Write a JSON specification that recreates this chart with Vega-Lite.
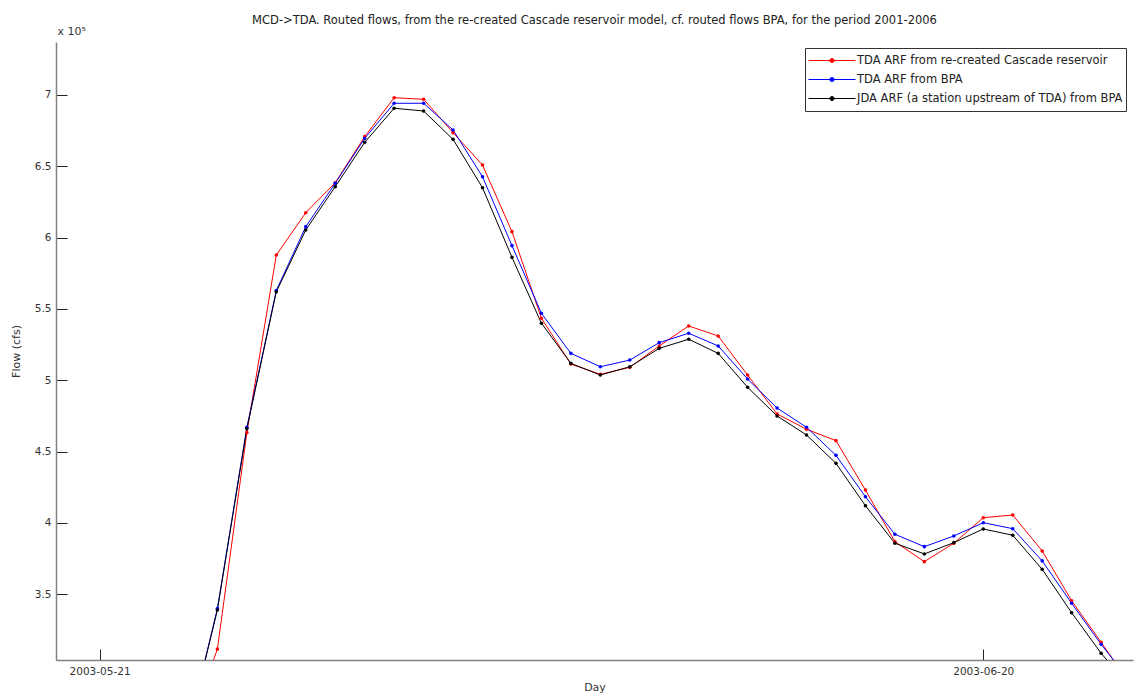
{
  "$schema": "https://vega.github.io/schema/vega-lite/v6.json",
  "autosize": "none",
  "width": 1077,
  "height": 618,
  "padding": {"left": 56, "top": 42, "right": 1, "bottom": 35},
  "background": "white",
  "title": {
    "text": "MCD->TDA. Routed flows, from the re-created Cascade reservoir model, cf. routed flows BPA, for the period 2001-2006",
    "anchor": "middle",
    "font": "DejaVu Sans",
    "fontSize": 11.5,
    "fontWeight": "normal",
    "color": "#222",
    "baseline": "alphabetic",
    "offset": 2,
    "dy": 12
  },
  "data": {
    "values": [
      {"day": "2003-05-24", "A": 253600, "B": 254000, "C": 254000},
      {"day": "2003-05-25", "A": 311600, "B": 340000, "C": 339000},
      {"day": "2003-05-26", "A": 463300, "B": 467000, "C": 466000},
      {"day": "2003-05-27", "A": 587800, "B": 563000, "C": 562000},
      {"day": "2003-05-28", "A": 617500, "B": 607700, "C": 605400},
      {"day": "2003-05-29", "A": 638500, "B": 638100, "C": 635700},
      {"day": "2003-05-30", "A": 670800, "B": 669600, "C": 666800},
      {"day": "2003-05-31", "A": 698100, "B": 694200, "C": 690700},
      {"day": "2003-06-01", "A": 697000, "B": 694200, "C": 688800},
      {"day": "2003-06-02", "A": 673600, "B": 675500, "C": 668900},
      {"day": "2003-06-03", "A": 650900, "B": 642700, "C": 635000},
      {"day": "2003-06-04", "A": 604200, "B": 594400, "C": 586200},
      {"day": "2003-06-05", "A": 543500, "B": 547000, "C": 540000},
      {"day": "2003-06-06", "A": 511400, "B": 518900, "C": 511900},
      {"day": "2003-06-07", "A": 504200, "B": 509500, "C": 503700},
      {"day": "2003-06-08", "A": 509100, "B": 514200, "C": 509500},
      {"day": "2003-06-09", "A": 524100, "B": 526400, "C": 522400},
      {"day": "2003-06-10", "A": 538100, "B": 533000, "C": 528800},
      {"day": "2003-06-11", "A": 531100, "B": 524100, "C": 518900},
      {"day": "2003-06-12", "A": 503700, "B": 500900, "C": 495100},
      {"day": "2003-06-13", "A": 476400, "B": 480600, "C": 475000},
      {"day": "2003-06-14", "A": 465700, "B": 467100, "C": 461700},
      {"day": "2003-06-15", "A": 457700, "B": 447400, "C": 441800},
      {"day": "2003-06-16", "A": 423100, "B": 418400, "C": 412100},
      {"day": "2003-06-17", "A": 386900, "B": 392100, "C": 385800},
      {"day": "2003-06-18", "A": 372900, "B": 383400, "C": 378300},
      {"day": "2003-06-19", "A": 385800, "B": 390900, "C": 386200},
      {"day": "2003-06-20", "A": 403700, "B": 400200, "C": 395800},
      {"day": "2003-06-21", "A": 405600, "B": 396000, "C": 391400},
      {"day": "2003-06-22", "A": 380400, "B": 373400, "C": 367500},
      {"day": "2003-06-23", "A": 345500, "B": 343700, "C": 337100},
      {"day": "2003-06-24", "A": 316400, "B": 315000, "C": 308700},
      {"day": "2003-06-25", "A": 286700, "B": 288700, "C": 284500}
    ]
  },
  "transform": [
    {"fold": ["A", "B", "C"], "as": ["key", "flow"]},
    {"lookup": "key", "from": {"data": {"values": [
      {"key": "A", "series": "TDA ARF from re-created Cascade reservoir"},
      {"key": "B", "series": "TDA ARF from BPA"},
      {"key": "C", "series": "JDA ARF (a station upstream of TDA) from BPA"}
    ]}, "key": "key", "fields": ["series"]}}
  ],
  "layer": [
    {
      "mark": {"type": "line", "strokeWidth": 1, "clip": true, "point": {"filled": true, "size": 13, "clip": true}},
      "encoding": {
        "x": {
          "field": "day", "type": "temporal",
          "scale": {"type": "utc", "domain": [
            {"year": 2003, "month": 5, "date": 19, "hours": 12, "minutes": 30, "utc": true},
            {"year": 2003, "month": 6, "date": 25, "hours": 2, "utc": true}
          ]},
          "axis": {
            "values": [
              {"year": 2003, "month": 5, "date": 21, "utc": true},
              {"year": 2003, "month": 6, "date": 20, "utc": true}
            ],
            "labelExpr": "utcFormat(datum.value, '%Y-%m-%d')",
            "title": "Day",
            "tickSize": -11,
            "labelPadding": 17,
            "titlePadding": 5
          }
        },
        "y": {
          "field": "flow", "type": "quantitative",
          "scale": {"domain": [303950, 737150], "zero": false, "nice": false},
          "axis": {
            "values": [350000, 400000, 450000, 500000, 550000, 600000, 650000, 700000],
            "labelExpr": "format(datum.value / 100000, '.1~f')",
            "title": "Flow (cfs)",
            "tickSize": -11,
            "labelPadding": 16,
            "titlePadding": 13
          }
        },
        "color": {
          "field": "series", "type": "nominal",
          "scale": {
            "domain": ["TDA ARF from re-created Cascade reservoir", "TDA ARF from BPA", "JDA ARF (a station upstream of TDA) from BPA"],
            "range": ["#ff0000", "#0000ff", "#000000"]
          },
          "legend": {
            "title": null,
            "orient": "none",
            "legendX": 749,
            "legendY": 6,
            "symbolType": "M-1,0H1M0.09,0A0.09,0.09,0,1,1,-0.09,0A0.09,0.09,0,1,1,0.09,0Z",
            "symbolSize": 2209,
            "symbolStrokeWidth": 1,
            "clipHeight": 19,
            "rowPadding": 0,
            "labelOffset": 1,
            "labelFont": "DejaVu Sans",
            "labelFontSize": 11.5,
            "labelColor": "#222",
            "labelLimit": 400,
            "padding": 3,
            "strokeColor": "#333",
            "fillColor": "white",
            "encode": {"symbols": {"update": {"fill": {"scale": "color", "field": "value"}}}}
          }
        }
      }
    },
    {
      "mark": {"type": "point", "opacity": 0, "clip": true},
      "encoding": {
        "x": {"field": "day", "type": "temporal"},
        "y": {
          "field": "flow", "type": "quantitative",
          "scale": {"domain": [303950, 737150], "zero": false, "nice": false},
          "axis": {
            "orient": "left",
            "title": "x 10⁵",
            "titleAngle": 0,
            "titleX": 1,
            "titleY": -8,
            "titleAlign": "left",
            "titleBaseline": "alphabetic",
            "labels": false,
            "ticks": false,
            "domain": false,
            "grid": false
          }
        }
      }
    }
  ],
  "resolve": {"scale": {"y": "independent"}, "axis": {"y": "independent"}},
  "config": {
    "view": {"stroke": null},
    "axis": {
      "grid": false,
      "domainColor": "#808080",
      "domainWidth": 1.5,
      "tickColor": "#222",
      "tickWidth": 1,
      "labelFont": "DejaVu Sans",
      "labelFontSize": 10.5,
      "labelColor": "#333",
      "titleFont": "DejaVu Sans",
      "titleFontSize": 11,
      "titleFontWeight": "normal",
      "titleColor": "#333"
    }
  }
}
